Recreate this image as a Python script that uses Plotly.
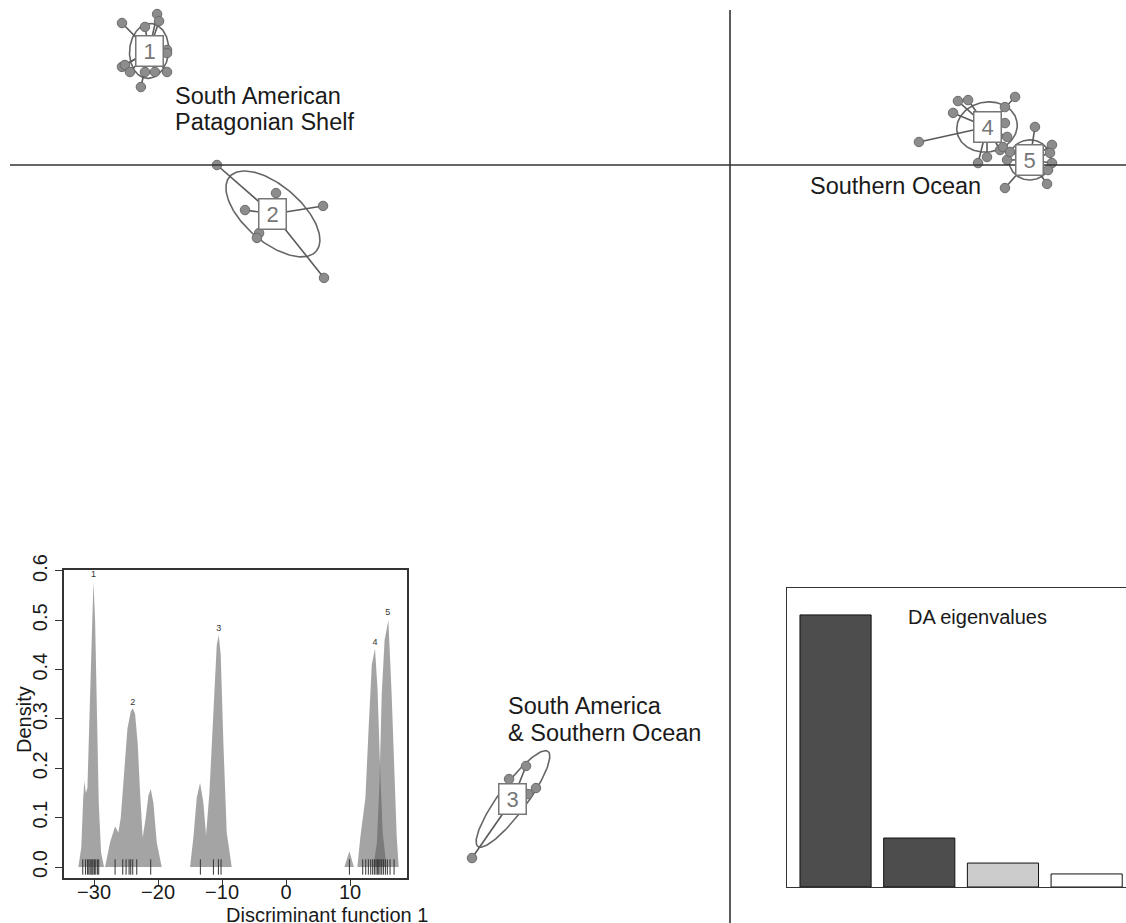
import numpy as np
import plotly.graph_objects as go

# ---------------- main scatter data (discriminant space) ----------------
groups = ["1", "2", "3", "4", "5"]
centers_x = [-29.79, -23.44, -11.13, 13.18, 15.38]
centers_y = [5.85, -2.51, -32.51, 1.95, 0.26]

g1_x = [-31.18, -29.38, -29.28, -30.0, -28.87, -28.87, -31.18, -31.03, -30.77, -30.21, -30.0, -29.49, -28.87]
g1_y = [7.28, 7.74, 7.38, 7.08, 5.90, 5.74, 5.03, 5.13, 4.77, 4.0, 4.77, 4.77, 4.77]
g2_x = [-26.31, -23.28, -24.87, -20.87, -24.15, -24.26, -20.82]
g2_y = [0.0, -1.44, -2.31, -2.10, -3.49, -3.74, -5.79]
g3_x = [-10.46, -11.33, -9.95, -10.36, -13.23]
g3_y = [-30.82, -31.49, -31.95, -32.26, -35.54]
g4_x = [11.69, 12.21, 11.44, 14.62, 14.10, 9.69, 12.72, 13.18, 13.85, 14.21, 14.10]
g4_y = [3.28, 3.33, 2.67, 3.49, 2.97, 1.18, 0.10, 0.41, 0.77, 1.44, 2.15]
g5_x = [15.64, 14.0, 14.21, 14.36, 16.51, 16.41, 16.51, 16.31, 14.10, 16.26]
g5_y = [1.95, 0.92, 0.26, 0.67, 1.03, 0.62, 0.10, -0.26, -1.18, -0.97]

# inertia ellipses: semi-axes and orientation (degrees)
ell_a = [1.41, 2.93, 3.03, 1.56, 1.08]
ell_b = [1.0, 1.44, 0.72, 1.28, 1.03]
ell_angle = [85, -40.8, 53.6, 10, 0]

region_labels = ["South American", "Patagonian Shelf", "Southern Ocean",
                 "South America", "& Southern Ocean"]
region_x = [-28.56, -28.56, 4.0, -11.49, -11.49]
region_y = [3.54, 2.21, -1.08, -27.74, -29.13]

# ---------------- density inset data ----------------
d1_x = [-32.45, -32.0, -31.7, -31.51, -31.3, -31.04, -30.73, -30.36, -30.10, -29.84, -29.58, -29.27, -28.91, -28.44]
d1_y = [0, 0.04, 0.14, 0.175, 0.15, 0.16, 0.3, 0.5, 0.578, 0.5, 0.32, 0.13, 0.03, 0]
d2_x = [-28.28, -27.5, -26.72, -26.2, -25.83, -25.31, -24.79, -24.27, -23.96, -23.59, -23.18, -22.81, -22.4, -21.93, -21.51, -21.15, -20.73, -20.21, -19.43]
d2_y = [0, 0.05, 0.082, 0.07, 0.1, 0.2, 0.28, 0.315, 0.322, 0.31, 0.25, 0.15, 0.06, 0.1, 0.145, 0.158, 0.13, 0.05, 0]
d3_x = [-15.0, -14.48, -13.96, -13.44, -12.92, -12.5, -11.98, -11.35, -10.83, -10.52, -10.21, -9.79, -9.27, -8.49]
d3_y = [0, 0.06, 0.14, 0.171, 0.13, 0.065, 0.15, 0.33, 0.45, 0.47, 0.43, 0.25, 0.07, 0]
d4_x = [9.11, 9.9, 10.6, 11.15, 11.6, 12.08, 12.4, 12.9, 13.4, 13.9, 14.3, 14.7, 15.1, 15.7]
d4_y = [0, 0.032, 0, 0, 0.06, 0.116, 0.14, 0.28, 0.41, 0.443, 0.36, 0.2, 0.07, 0]
d5_x = [13.65, 14.2, 14.6, 14.95, 15.4, 15.99, 16.5, 17.0, 17.3, 17.6]
d5_y = [0, 0.05, 0.17, 0.35, 0.46, 0.5, 0.35, 0.15, 0.06, 0]

peak_x = [-30.1, -23.96, -10.52, 13.9, 15.89]
peak_y = [0.592, 0.333, 0.482, 0.455, 0.515]

rug_x = [-31.77, -31.35, -31.04, -30.83, -30.63, -30.47, -30.31, -30.16, -29.95, -29.74, -29.48, -29.27,
         -26.72, -25.52, -25.0, -24.53, -24.27, -23.96, -23.33, -21.15,
         -13.39, -11.35, -10.57, -10.16,
         9.9, 11.98, 12.45, 12.86, 13.23, 13.54, 13.8, 14.06, 14.27, 14.48, 14.69, 14.95, 15.21, 15.52,
         15.83, 16.25, 16.88]

density_ticks = [-30, -20, -10, 0, 10]
density_yticks = [0.0, 0.1, 0.2, 0.3, 0.4, 0.5, 0.6]

# ---------------- eigenvalue inset data ----------------
eig_pos = [1, 2, 3, 4]
eig_values = [100, 18.0, 8.8, 4.8]
eig_colors = ["#4d4d4d", "#4d4d4d", "#cccccc", "#ffffff"]

FONT = "Liberation Sans, Arial, sans-serif"

fig = go.Figure()

gx = [g1_x, g2_x, g3_x, g4_x, g5_x]
gy = [g1_y, g2_y, g3_y, g4_y, g5_y]

# ellipses
t = np.linspace(0, 2 * np.pi, 160)
for i in range(5):
    th = np.deg2rad(ell_angle[i])
    ex = centers_x[i] + ell_a[i] * np.cos(t) * np.cos(th) - ell_b[i] * np.sin(t) * np.sin(th)
    ey = centers_y[i] + ell_a[i] * np.cos(t) * np.sin(th) + ell_b[i] * np.sin(t) * np.cos(th)
    fig.add_trace(go.Scatter(x=ex, y=ey, mode="lines", line=dict(color="#666666", width=1.6),
                             hoverinfo="skip", showlegend=False, xaxis="x", yaxis="y"))

# star segments
for i in range(5):
    sx, sy = [], []
    for px, py in zip(gx[i], gy[i]):
        sx += [centers_x[i], px, None]
        sy += [centers_y[i], py, None]
    fig.add_trace(go.Scatter(x=sx, y=sy, mode="lines", line=dict(color="#5a5a5a", width=1.6),
                             hoverinfo="skip", showlegend=False, xaxis="x", yaxis="y"))

# points
for i in range(5):
    fig.add_trace(go.Scatter(x=gx[i], y=gy[i], mode="markers",
                             marker=dict(size=9.5, color="#8c8c8c", line=dict(color="#6a6a6a", width=1)),
                             showlegend=False, xaxis="x", yaxis="y", name="group " + groups[i]))

# density polygons
dxs = [d1_x, d2_x, d3_x, d4_x, d5_x]
dys = [d1_y, d2_y, d3_y, d4_y, d5_y]
for i in range(5):
    fig.add_trace(go.Scatter(x=dxs[i], y=dys[i], mode="lines", fill="toself",
                             fillcolor="rgba(90,90,90,0.55)", line=dict(width=0, color="rgba(0,0,0,0)"),
                             showlegend=False, xaxis="x2", yaxis="y2", hoverinfo="skip"))

# rug
fig.add_trace(go.Scatter(x=rug_x, y=[0.0] * len(rug_x), mode="markers",
                         marker=dict(symbol="line-ns", size=11, line=dict(color="#333333", width=1)),
                         showlegend=False, xaxis="x2", yaxis="y2", hoverinfo="skip"))

# peak labels
fig.add_trace(go.Scatter(x=peak_x, y=peak_y, mode="text", text=groups,
                         textfont=dict(size=9, color="#333333", family=FONT),
                         showlegend=False, xaxis="x2", yaxis="y2", hoverinfo="skip"))

# eigenvalue bars
fig.add_trace(go.Bar(x=eig_pos, y=eig_values, width=0.85, marker=dict(color=eig_colors,
                     line=dict(color="#111111", width=1)), showlegend=False, xaxis="x3", yaxis="y3"))

X0, X1 = -730 / 19.5, 396 / 19.5
Y0, Y1 = -758 / 19.5, 165 / 19.5

annotations = []
for i in range(5):
    annotations.append(dict(x=centers_x[i], y=centers_y[i], xref="x", yref="y", text=groups[i],
                            showarrow=False, font=dict(size=22, color="#777777", family=FONT),
                            bgcolor="white", bordercolor="#777777", borderwidth=1.5, borderpad=1,
                            width=24, height=27, align="center", valign="middle"))
for txt, x, y in zip(region_labels, region_x, region_y):
    annotations.append(dict(x=x, y=y, xref="x", yref="y", text=txt, showarrow=False,
                            xanchor="left", yanchor="middle",
                            font=dict(size=23.5, color="#1a1a1a", family=FONT)))
annotations.append(dict(x=24 / 1126, y=(923 - 720) / 923, xref="paper", yref="paper", text="Density",
                        textangle=-90, showarrow=False, xanchor="center", yanchor="middle",
                        font=dict(size=20, color="#1a1a1a", family=FONT)))
annotations.append(dict(x=224 / 1126, y=(923 - 915) / 923, xref="paper", yref="paper",
                        text="Discriminant function 1", showarrow=False, yanchor="middle",
                        font=dict(size=20, color="#1a1a1a", family=FONT)))
annotations.append(dict(x=2.69, y=99.2, xref="x3", yref="y3", text="DA eigenvalues", showarrow=False,
                        font=dict(size=20, color="#1a1a1a", family=FONT)))

shapes = [
    dict(type="line", xref="x", yref="y", x0=0, x1=0, y0=(165 - 10) / 19.5, y1=Y0,
         line=dict(color="#333333", width=1.6)),
    dict(type="line", xref="x", yref="y", x0=(10 - 730) / 19.5, x1=X1, y0=0, y1=0,
         line=dict(color="#333333", width=1.6)),
]

hidden = dict(visible=False, showgrid=False, zeroline=False, automargin=False)

fig.update_layout(
    width=1126, height=923,
    margin=dict(l=0, r=0, t=0, b=0, pad=0, autoexpand=False),
    paper_bgcolor="white", plot_bgcolor="rgba(0,0,0,0)",
    font=dict(family=FONT, color="#1a1a1a"),
    xaxis=dict(domain=[0, 1], range=[X0, X1], **hidden),
    yaxis=dict(domain=[0, 1], range=[Y0, Y1], **hidden),
    xaxis2=dict(domain=[64 / 1126, 407 / 1126], range=[-34.7, 18.9], anchor="y2",
                showline=True, mirror=True, linecolor="#333333", linewidth=1.5,
                ticks="outside", ticklen=6, tickwidth=1.2, tickcolor="#333333",
                tickvals=density_ticks, tickfont=dict(size=20, color="#1a1a1a"),
                ticklabelstandoff=-11,
                showgrid=False, zeroline=False, automargin=False),
    yaxis2=dict(domain=[(923 - 878) / 923, (923 - 570) / 923], range=[-0.0223, 0.602], anchor="x2",
                showline=True, mirror=True, linecolor="#333333", linewidth=1.5,
                ticks="outside", ticklen=7, tickwidth=1.2, tickcolor="#333333",
                tickvals=density_yticks, tickformat=".1f", tickangle=-90,
                tickfont=dict(size=20, color="#1a1a1a"), showgrid=False, zeroline=False,
                automargin=False),
    xaxis3=dict(domain=[787 / 1126, 1.0], range=[0.42, 4.47], anchor="y3",
                showline=True, mirror=True, linecolor="#333333", linewidth=1.3,
                showticklabels=False, ticks="", showgrid=False, zeroline=False, automargin=False),
    yaxis3=dict(domain=[(923 - 887) / 923, (923 - 588) / 923], range=[0, 109.9], anchor="x3",
                showline=True, mirror=False, linecolor="#333333", linewidth=1.3,
                showticklabels=False, ticks="", showgrid=False, zeroline=False, automargin=False),
    bargap=0.15,
    annotations=annotations,
    shapes=shapes,
)

fig.write_html("out.html", config={"displayModeBar": False},
               post_script="document.body.style.margin='0';document.body.style.overflow='hidden';")
